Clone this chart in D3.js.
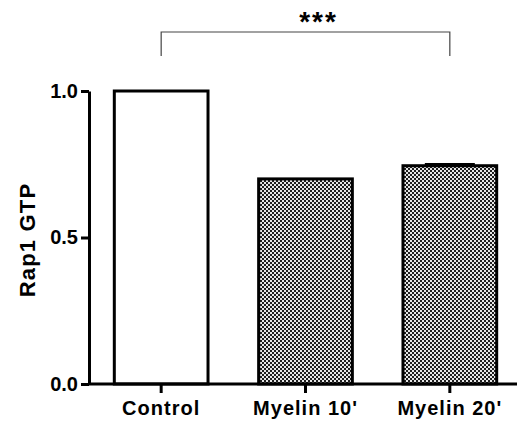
<!DOCTYPE html>
<html>
<head>
<meta charset="utf-8">
<script src="https://cdn.jsdelivr.net/npm/d3@7/dist/d3.min.js"></script>
<style>
  body { margin: 0; background: #fff; }
  svg text { font-family: "Liberation Sans", Arial, sans-serif; font-weight: bold; }
</style>
</head>
<body>
<svg id="chart" width="517" height="425"></svg>
<script>
var categories = ["Control", "Myelin 10'", "Myelin 20'"];
var values = [1.0, 0.70, 0.745];
var errors = [0, 0, 0.006];
var filled = [false, true, true];
var yTicks = [0, 0.5, 1.0];
var sigPair = ["Control", "Myelin 20'"];
var sigLabel = "***";

var svg = d3.select("#chart");

// checker pattern for the treated bars
var defs = svg.append("defs");
var pat = defs.append("pattern")
    .attr("id", "checker")
    .attr("patternUnits", "userSpaceOnUse")
    .attr("width", 4).attr("height", 4);
pat.append("rect").attr("width", 4).attr("height", 4).attr("fill", "#e6e6e6");
pat.append("rect").attr("width", 2).attr("height", 2).attr("fill", "#1e1e1e");
pat.append("rect").attr("x", 2).attr("y", 2).attr("width", 2).attr("height", 2).attr("fill", "#1e1e1e");

var x = d3.scaleBand()
    .domain(categories)
    .range([89, 522])
    .paddingInner(0.33)
    .paddingOuter(0.165);

var y = d3.scaleLinear()
    .domain([0, 1])
    .range([384, 91]);

// bars
svg.append("g")
  .selectAll("rect")
  .data(categories)
  .enter().append("rect")
    .attr("x", function(d) { return x(d) + 1.5; })
    .attr("y", function(d, i) { return y(values[i]); })
    .attr("width", x.bandwidth() - 3)
    .attr("height", function(d, i) { return y(0) - y(values[i]); })
    .attr("fill", function(d, i) { return filled[i] ? "url(#checker)" : "#fff"; })
    .attr("stroke", "#000")
    .attr("stroke-width", 3);

// error caps
svg.append("g")
  .selectAll("line")
  .data(categories.filter(function(d, i) { return errors[i] > 0; }))
  .enter().append("line")
    .attr("x1", function(d) { return x(d) + x.bandwidth() / 2 - 25; })
    .attr("x2", function(d) { return x(d) + x.bandwidth() / 2 + 25; })
    .attr("y1", function(d) { var i = categories.indexOf(d); return y(values[i] + errors[i]); })
    .attr("y2", function(d) { var i = categories.indexOf(d); return y(values[i] + errors[i]); })
    .attr("stroke", "#000")
    .attr("stroke-width", 2);

// y axis
var yAxis = svg.append("g")
    .attr("transform", "translate(89,0)")
    .call(d3.axisLeft(y).tickValues(yTicks).tickFormat(d3.format(".1f")).tickSize(8).tickSizeOuter(0).tickPadding(3));
yAxis.select(".domain").attr("stroke-width", 3);
yAxis.selectAll(".tick line").attr("stroke-width", 3);
yAxis.selectAll(".tick text").attr("font-size", 20).attr("fill", "#000");

// x axis
var xAxis = svg.append("g")
    .attr("transform", "translate(0,384)")
    .call(d3.axisBottom(x).tickSize(9).tickSizeOuter(0).tickPadding(8));
xAxis.select(".domain").attr("stroke-width", 3).attr("d", "M88,0H517");
xAxis.selectAll(".tick line").attr("stroke-width", 3);
xAxis.selectAll(".tick text").attr("font-size", 20).attr("letter-spacing", 1).attr("fill", "#000");

// y label
svg.append("text")
    .attr("transform", "translate(35,240) rotate(-90)")
    .attr("text-anchor", "middle")
    .attr("font-size", 22)
    .attr("letter-spacing", 1.2)
    .text("Rap1 GTP");

// significance bracket
var bx1 = x(sigPair[0]) + x.bandwidth() / 2;
var bx2 = x(sigPair[1]) + x.bandwidth() / 2;
svg.append("path")
    .attr("d", "M" + bx1 + ",56V32H" + bx2 + "V56")
    .attr("fill", "none")
    .attr("stroke", "#444")
    .attr("stroke-width", 1.2);
svg.append("text")
    .attr("x", (bx1 + bx2) / 2 + 13)
    .attr("y", 31)
    .attr("text-anchor", "middle")
    .attr("font-size", 28)
    .attr("letter-spacing", 2)
    .text(sigLabel);
</script>
</body>
</html>
